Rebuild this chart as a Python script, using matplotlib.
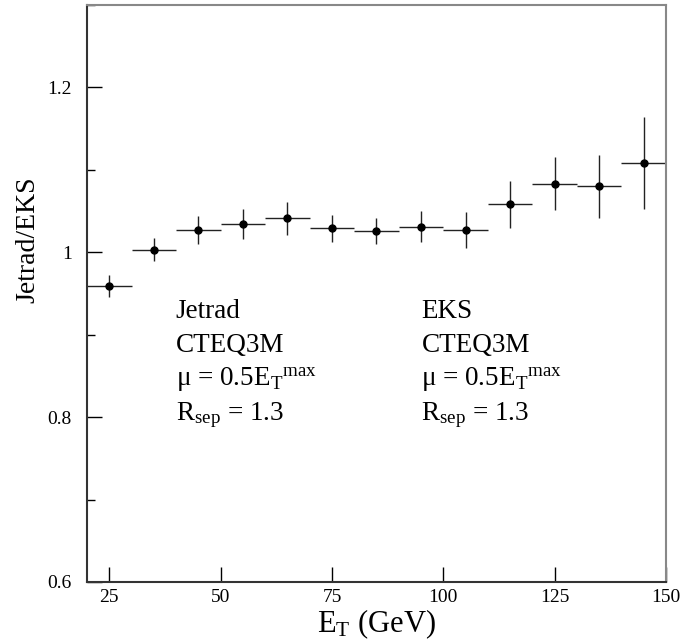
import numpy as np
import matplotlib.pyplot as plt
from matplotlib.ticker import MultipleLocator

plt.rcParams['font.family'] = ['Liberation Serif', 'DejaVu Serif']
plt.rcParams['mathtext.fontset'] = 'custom'
plt.rcParams['mathtext.rm'] = 'Liberation Serif'
plt.rcParams['mathtext.it'] = 'Liberation Serif:italic'

# ratio Jetrad/EKS per 10 GeV bin
et = np.array([25, 35, 45, 55, 65, 75, 85, 95, 105, 115, 125, 135, 145])
ratio = np.array([0.959, 1.003, 1.027, 1.034, 1.041, 1.029, 1.026, 1.031,
                  1.027, 1.058, 1.083, 1.080, 1.108])
err = np.array([0.013, 0.014, 0.017, 0.018, 0.020, 0.016, 0.016, 0.019,
                0.022, 0.028, 0.032, 0.038, 0.056])
bin_half = np.full(len(et), 5.0)

left_text = ['Jetrad', 'CTEQ3M', r'μ = 0.5E$_\mathrm{T}$$^\mathrm{max}$',
             r'R$_\mathrm{sep}$ = 1.3']
right_text = ['EKS', 'CTEQ3M', r'μ = 0.5E$_\mathrm{T}$$^\mathrm{max}$',
              r'R$_\mathrm{sep}$ = 1.3']

fig = plt.figure(figsize=(7, 6.42), dpi=100)
ax = fig.add_axes([0.1243, 0.0935, 0.9514 - 0.1243, 0.9922 - 0.0935])

ax.errorbar(et, ratio, xerr=bin_half, yerr=err, fmt='o', color='black',
            ecolor='#222222', elinewidth=1.0, capsize=0, markersize=5)

ax.set_xlim(20, 150)
ax.set_ylim(0.6, 1.3)
ax.xaxis.set_major_locator(MultipleLocator(25))
ax.yaxis.set_minor_locator(MultipleLocator(0.1))
ax.set_yticks([0.6, 0.8, 1.0, 1.2])
ax.set_yticklabels(['0.6', '0.8', '1', '1.2'])

ax.tick_params(axis='both', which='major', direction='in', length=11, width=1,
               labelsize=14, top=False, right=False)
ax.tick_params(axis='x', pad=5)
ax.tick_params(axis='y', pad=11)
ax.tick_params(axis='y', which='minor', direction='in', length=6, width=1,
               right=False)

for side in ['left', 'bottom']:
    ax.spines[side].set_color('#333333')
    ax.spines[side].set_linewidth(1.5)
for side in ['right', 'top']:
    ax.spines[side].set_color('#888888')
    ax.spines[side].set_linewidth(1.5)

ax.set_xlabel(r'E$_\mathrm{T}$ (GeV)', fontsize=22, labelpad=1)
ax.set_ylabel('Jetrad/EKS', fontsize=20)
ax.yaxis.set_label_coords(-0.08, 0.593)

for i, (lt, rt) in enumerate(zip(left_text, right_text)):
    y = 0.920 - i * 0.0412
    ax.text(39.9, y, lt, fontsize=19.5, va='baseline')
    ax.text(95.1, y, rt, fontsize=19.5, va='baseline')

fig.savefig('out.png', dpi=100)
